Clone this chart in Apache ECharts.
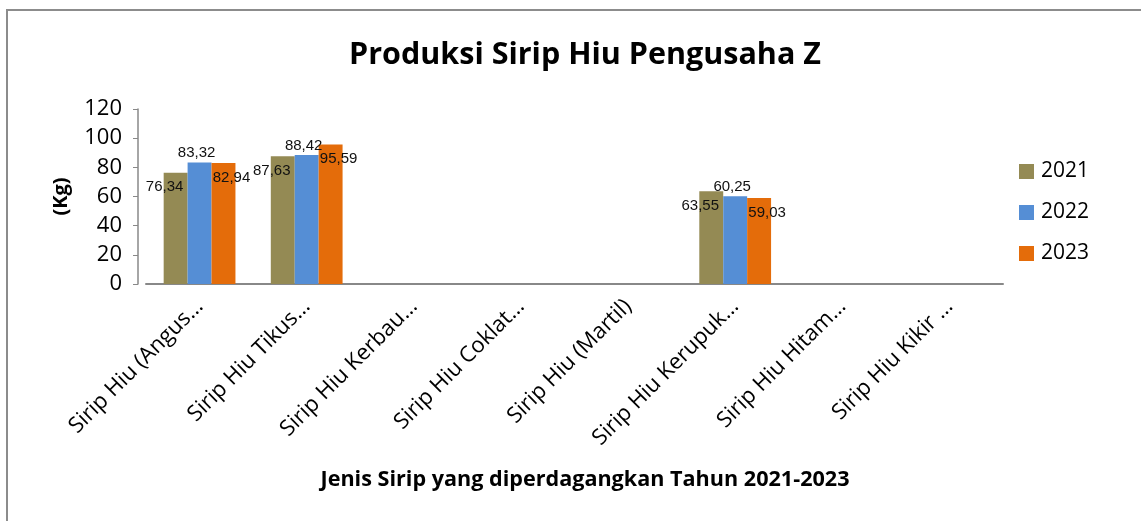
<!DOCTYPE html>
<html>
<head>
<meta charset="utf-8">
<script src="https://cdn.jsdelivr.net/npm/echarts@6/dist/echarts.min.js"></script>
<style>html,body{margin:0;padding:0;background:#fff;}#c{width:1141px;height:521px;}</style>
</head>
<body>
<div id="c"></div>
<script>
const categories = ["Sirip Hiu (Angus…", "Sirip Hiu Tikus…", "Sirip Hiu Kerbau…", "Sirip Hiu Coklat…", "Sirip Hiu (Martil)", "Sirip Hiu Kerupuk…", "Sirip Hiu Hitam…", "Sirip Hiu Kikir …"];
const seriesNames = ["2021", "2022", "2023"];
const values2021 = [76.34, 87.63, null, null, null, 63.55, null, null];
const values2022 = [83.32, 88.42, null, null, null, 60.25, null, null];
const values2023 = [82.94, 95.59, null, null, null, 59.03, null, null];
const yTicks = [0, 20, 40, 60, 80, 100, 120];

const colors = ["#948A54", "#558ED5", "#E46C0A"];
const labelOffsets = [[-11, 24], [-3, 0], [8, 24]];
const allValues = [values2021, values2022, values2023];

const chart = echarts.init(document.getElementById('c'), null, {renderer: 'canvas'});
const fmt = p => p.value == null ? '' : p.value.toFixed(2).replace('.', ',');
chart.setOption({
  animation: false,
  title: {
    text: 'Produksi Sirip Hiu Pengusaha Z',
    left: 580, top: 35, textAlign: 'center',
    textStyle: {fontFamily: 'Open Sans', fontWeight: 'bold', fontSize: 30.5, color: '#000'}
  },
  legend: {
    orient: 'vertical', left: 1014, top: 156,
    itemWidth: 15, itemHeight: 15, itemGap: 20,
    icon: 'rect',
    textStyle: {fontFamily: 'Open Sans', fontSize: 21, color: '#000', padding: [0, 0, 0, 2]},
    data: seriesNames
  },
  grid: {left: 146, right: 138, top: 109, bottom: 237, containLabel: false},
  xAxis: {
    type: 'category', data: categories,
    axisLine: {lineStyle: {color: '#888', width: 2}},
    axisTick: {show: false},
    axisLabel: {rotate: 45, interval: 0, fontFamily: 'Open Sans', fontSize: 22, color: '#000', margin: 19}
  },
  yAxis: {
    type: 'value', min: 0, max: 120, interval: 20, offset: 8,
    name: '(Kg)', nameLocation: 'middle', nameGap: 67, nameRotate: 90,
    nameTextStyle: {fontFamily: 'Open Sans', fontWeight: 'bold', fontSize: 20, color: '#000'},
    axisLine: {show: true, lineStyle: {color: '#888', width: 1.5}},
    axisTick: {show: true, length: 5, lineStyle: {color: '#888'}},
    splitLine: {show: false},
    axisLabel: {fontFamily: 'Open Sans', fontSize: 22, color: '#000', margin: 16,
      formatter: v => yTicks.includes(v) ? String(v) : ''}
  },
  graphic: [
    {type: 'rect', shape: {x: 7, y: 10, width: 1300, height: 700}, style: {fill: 'none', stroke: '#8c8c8c', lineWidth: 2}, silent: true},
    {type: 'text', x: 585, y: 469,
     style: {text: 'Jenis Sirip yang diperdagangkan Tahun 2021-2023', font: 'bold 21.6px "Open Sans"', fill: '#000', textAlign: 'center'}}
  ],
  series: seriesNames.map((n, i) => ({
    name: n, type: 'bar', data: allValues[i],
    barGap: '0%', barCategoryGap: '33%',
    itemStyle: {color: colors[i]},
    label: {show: true, position: 'top', distance: 2, offset: labelOffsets[i], formatter: fmt,
      fontFamily: 'Liberation Sans', fontSize: 15, color: '#111'}
  }))
});
</script>
</body>
</html>
